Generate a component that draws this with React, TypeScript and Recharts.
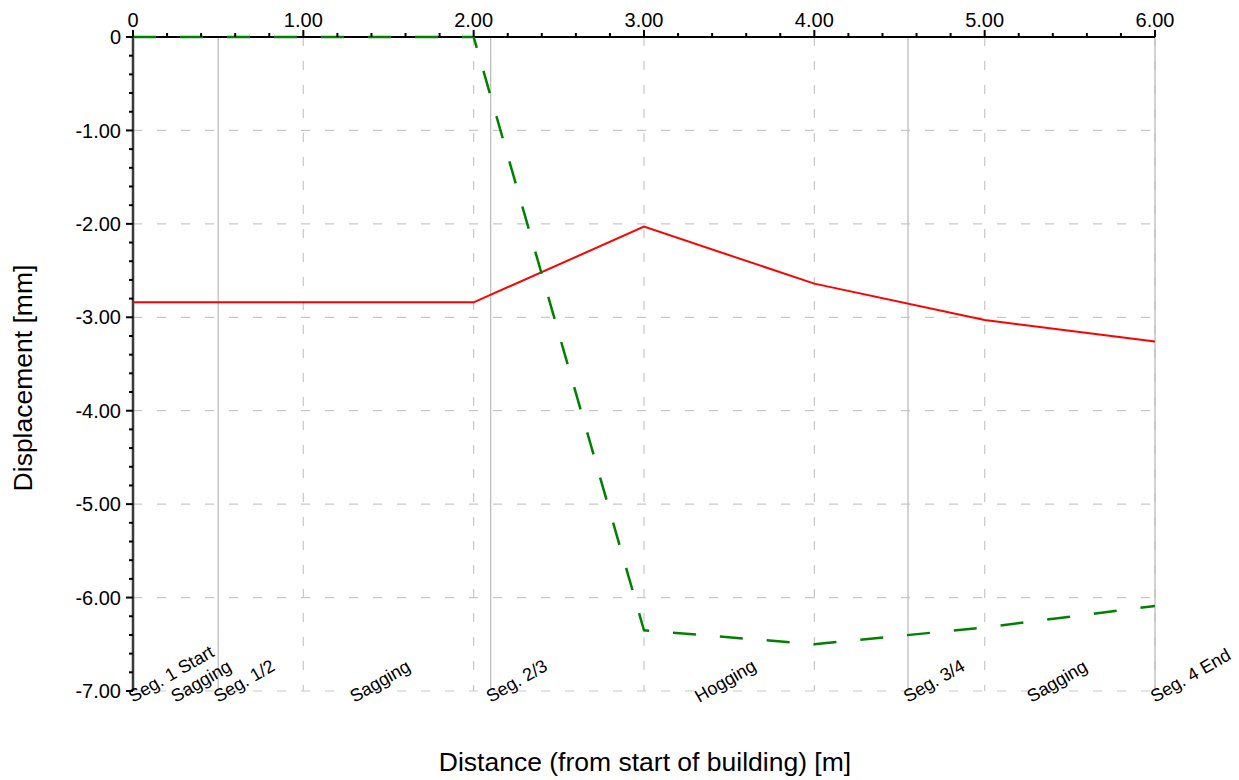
import React from 'react';
import { LineChart, Line, XAxis, YAxis, ReferenceLine, ReferenceDot } from 'recharts';

// ---- data ----
const distances = [0, 2, 3, 4, 5, 6];
const redSeries = [-2.84, -2.84, -2.03, -2.64, -3.03, -3.26];
const greenSeries = [0, 0, -6.35, -6.5, -6.32, -6.09];

const xMajorTicks = [0, 1, 2, 3, 4, 5, 6];
const yMajorTicks = [0, -1, -2, -3, -4, -5, -6, -7];
const xGridLines = [1, 2, 3, 4, 5, 6];
const yGridLines = [-1, -2, -3, -4, -5, -6, -7];

const segmentBoundaries = [0.5, 2.1, 4.55, 6];
const segmentLabelX = [0, 0.25, 0.5, 1.3, 2.1, 3.325, 4.55, 5.275, 6];
const segmentLabelText = [
  'Seg. 1 Start',
  'Sagging',
  'Seg. 1/2',
  'Sagging',
  'Seg. 2/3',
  'Hogging',
  'Seg. 3/4',
  'Sagging',
  'Seg. 4 End',
];

const data = distances.map((d, i) => ({ x: d, red: redSeries[i], green: greenSeries[i] }));

// minor ticks every 0.2 between majors
const subdivide = (majors: number[]) => {
  const out: number[] = [];
  const sorted = [...majors].sort((a, b) => a - b);
  for (let i = 0; i < sorted.length; i++) {
    out.push(sorted[i]);
    if (i < sorted.length - 1) {
      for (let k = 1; k < 5; k++) out.push(Math.round((sorted[i] + k * 0.2) * 10) / 10);
    }
  }
  return out;
};
const xAllTicks = subdivide(xMajorTicks);
const yAllTicks = subdivide(yMajorTicks);

const FONT = '"Liberation Sans", Arial, Helvetica, sans-serif';
const fmt = (v: number) => (Math.abs(v) < 1e-9 ? '0' : v.toFixed(2));
const isMajor = (v: number) => Math.abs(v - Math.round(v)) < 1e-6;

const XTick = (props: any) => {
  const { x, y, payload } = props;
  const v = payload.value;
  const major = isMajor(v);
  return (
    <g>
      <line x1={x} x2={x} y1={y} y2={y - (major ? 7 : 4)} stroke="#000" strokeWidth={2} />
      {major && (
        <text x={x} y={y - 10} textAnchor="middle" fontFamily={FONT} fontSize={20} fill="#000">
          {fmt(v)}
        </text>
      )}
    </g>
  );
};

const YTick = (props: any) => {
  const { x, y, payload } = props;
  const v = payload.value;
  const major = isMajor(v);
  return (
    <g>
      <line x1={x} x2={x - (major ? 7 : 4)} y1={y} y2={y} stroke="#000" strokeWidth={2} />
      {major && (
        <text x={x - 12} y={y} dy="0.36em" textAnchor="end" fontFamily={FONT} fontSize={20} fill="#000">
          {fmt(v)}
        </text>
      )}
    </g>
  );
};

const W = 1231;
const H = 772;

export default function App() {
  return (
    <div style={{ position: 'relative', width: W, height: H }}>
      <LineChart width={W} height={H} data={data} margin={{ top: 0, right: 84, bottom: 89, left: 0 }}>
        <XAxis
          dataKey="x"
          type="number"
          orientation="top"
          domain={[0, 6]}
          ticks={xAllTicks}
          interval={0}
          height={29}
          tickSize={0}
          tickMargin={0}
          tickLine={false}
          axisLine={{ stroke: '#000', strokeWidth: 2 }}
          tick={<XTick />}
        />
        <YAxis
          type="number"
          domain={[-7, 0]}
          ticks={yAllTicks}
          interval={0}
          width={125}
          tickSize={0}
          tickMargin={0}
          tickLine={false}
          axisLine={{ stroke: '#3a3a3a', strokeWidth: 2.5 }}
          tick={<YTick />}
        />
        {xGridLines.map((v) => (
          <ReferenceLine key={'gx' + v} x={v} stroke="#c8c8c8" strokeWidth={1.2} strokeDasharray="9 15" ifOverflow="visible" />
        ))}
        {yGridLines.map((v) => (
          <ReferenceLine key={'gy' + v} y={v} stroke="#c8c8c8" strokeWidth={1.2} strokeDasharray="9 15" ifOverflow="visible" />
        ))}
        {segmentBoundaries.map((v) => (
          <ReferenceLine key={'sb' + v} x={v} stroke="#b8b8b8" strokeWidth={1.2} ifOverflow="visible" />
        ))}
        {segmentLabelX.map((v, i) => (
          <ReferenceDot
            key={'sl' + i}
            x={v}
            y={-7}
            r={0}
            ifOverflow="visible"
            shape={(p: any) => (
              <text
                x={p.cx}
                y={p.cy + 12}
                transform={`rotate(-30, ${p.cx}, ${p.cy + 12})`}
                textAnchor="start"
                fontFamily={FONT}
                fontSize={18}
                fill="#000"
              >
                {segmentLabelText[i]}
              </text>
            )}
          />
        ))}
        <Line
          type="linear"
          dataKey="red"
          stroke="#ff0000"
          strokeWidth={2}
          dot={false}
          activeDot={false}
          isAnimationActive={false}
          zIndex={600}
        />
        <Line
          type="linear"
          dataKey="green"
          stroke="#008000"
          strokeWidth={2.5}
          strokeDasharray="23 24"
          dot={false}
          activeDot={false}
          isAnimationActive={false}
          zIndex={650}
        />
      </LineChart>
      <svg width={W} height={H} style={{ position: 'absolute', left: 0, top: 0, pointerEvents: 'none' }}>
        <text x={637} y={763} textAnchor="middle" fontFamily={FONT} fontSize={26.5} fill="#000">
          Distance (from start of building) [m]
        </text>
        <text
          x={24}
          y={370}
          transform="rotate(-90, 24, 370)"
          textAnchor="middle"
          fontFamily={FONT}
          fontSize={26.5}
          fill="#000"
        >
          Displacement [mm]
        </text>
      </svg>
    </div>
  );
}
